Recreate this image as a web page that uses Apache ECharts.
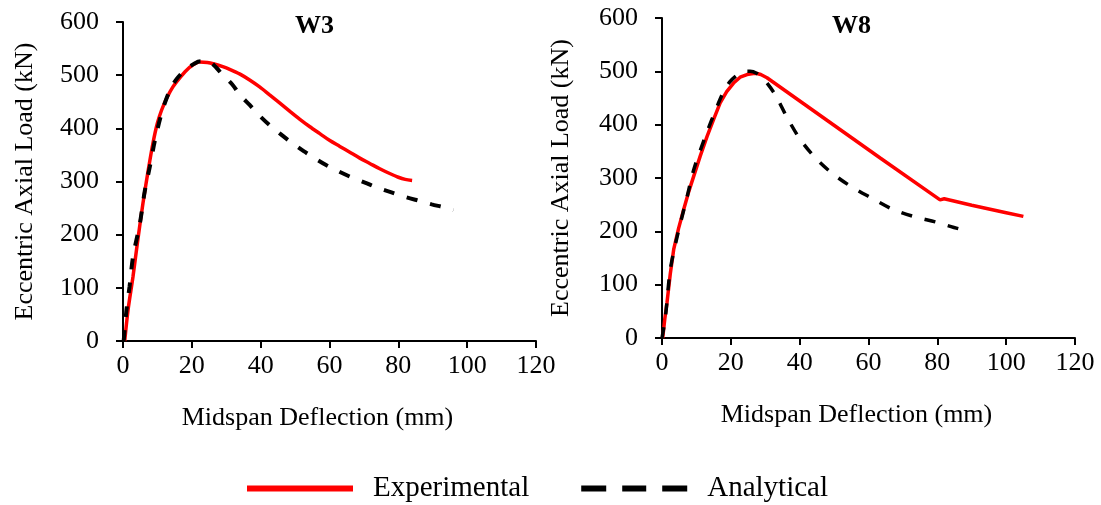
<!DOCTYPE html>
<html><head><meta charset="utf-8">
<script src="https://cdn.jsdelivr.net/npm/echarts@6/dist/echarts.min.js"></script>
<style>html,body{margin:0;padding:0;background:#fff}#c{width:1101px;height:505px}</style>
</head><body><div id="c"></div>
<script>
// ---- data (x = midspan deflection mm, y = eccentric axial load kN) ----
const panelTitles = ['W3', 'W8'];
const seriesNames = ['Experimental', 'Analytical'];
const xAxisName = 'Midspan Deflection (mm)';
const yAxisName = 'Eccentric Axial Load (kN)';

const w3Experimental = [
  [0.5,0],[1.5,60],[2.9,121],[4.3,190],[5.8,259],[7.3,320],[8.7,372],[10,410],[11.2,434],
  [12.8,458],[14.5,478],[16.5,495],[18.4,509],[20.3,519],[22.3,525],[24.5,524],[26.5,521],
  [29,516],[31,511],[34,502],[36.8,491],[39.7,478],[42.6,463],[45.5,448],[48.5,432],
  [51.4,417],[54.3,403],[57.2,390],[60.1,377],[63,366],[65.9,355],[68.8,344],[71.7,334],
  [74.6,324],[77.5,315],[80,308],[82,304],[84,302]
];
const w3Analytical = [
  [0.2,0],[1,58],[1.9,102],[2.9,158],[4.9,221],[6.3,281],[7.8,328],[9.2,375],[11.2,428],
  [13.6,472],[15.5,492],[17.9,509],[20.8,522],[22.5,526],[24.7,526],[27,515],[29,500],
  [31.7,483],[34,463],[36.8,444],[39.5,425],[42.6,406],[45.8,389],[49,373],[52.5,357],
  [55.9,343],[59,331],[62,321],[66,309],[70.3,298],[74,288],[78,279.5],[82,271],
  [85.8,264],[89.7,257],[93.7,250.6],[96,246]
];
const w8Experimental = [
  [0.2,0],[0.8,35],[1.45,66],[2.4,120],[3.4,166],[4.8,205],[6.3,241],[7.7,273],[9.2,303],
  [11.1,341],[13.1,378],[15,410],[16.9,441],[18.8,462],[20.8,478],[22.7,489],[24.7,494],
  [26.5,496],[27.6,496],[28.7,494],[30.5,488],[63.4,337.5],[80.8,259],[81.3,262],[82,261],
  [90,249],[100,235],[105,228]
];
const w8Analytical = [
  [0,0],[1,40],[2.4,128],[4.4,190],[7.3,265],[9.2,315],[12.6,378],[16,434],[17.9,462],
  [19.8,481],[22.7,497],[24.5,500],[25.6,500],[27.6,496],[29,488],[30.5,478],[33,455],
  [36.3,414],[40,374],[44.5,338],[49.4,309],[54.7,285],[61,262],[66.8,242],[73,228],
  [79.8,217],[86.1,205],[88,203]
];
const xTickMin = 0, xTickMax = 120, xTickStep = 20;
const yTickMin = 0, yTickMax = 600, yTickStep = 100;

// ---- chart ----
const FONT = "'Liberation Serif', 'Times New Roman', serif";
const RED = '#ff0000';
const chart = echarts.init(document.getElementById('c'), null, {renderer: 'canvas'});

function xAx(gi) {
  return {
    gridIndex: gi, type: 'value', min: xTickMin, max: xTickMax, interval: xTickStep,
    name: xAxisName, nameLocation: 'middle', nameGap: 64,
    nameTextStyle: {fontFamily: FONT, fontSize: 26, color: '#000', padding: [0, 24, 0, 0]},
    axisLine: {lineStyle: {color: '#000', width: 2}},
    axisTick: {show: true, inside: false, length: 7, lineStyle: {color: '#000', width: 2}},
    axisLabel: {fontFamily: FONT, fontSize: 26, color: '#000', margin: 12},
    splitLine: {show: false}
  };
}
function yAx(gi, gap) {
  return {
    gridIndex: gi, type: 'value', min: yTickMin, max: yTickMax, interval: yTickStep,
    name: yAxisName, nameLocation: 'middle', nameGap: gap, nameRotate: 90,
    nameTextStyle: {fontFamily: FONT, fontSize: 26, color: '#000'},
    axisLine: {show: true, lineStyle: {color: '#000', width: 2}},
    axisTick: {show: true, inside: false, length: 7, lineStyle: {color: '#000', width: 2}},
    axisLabel: {fontFamily: FONT, fontSize: 26, color: '#000', margin: 24},
    splitLine: {show: false}
  };
}
function expSeries(gi, data, smooth) {
  return {name: seriesNames[0], type: 'line', xAxisIndex: gi, yAxisIndex: gi, data: data,
    symbol: 'none', smooth: smooth, lineStyle: {color: RED, width: 3.5}, itemStyle: {color: RED}, z: 2};
}
function anaSeries(gi, data, w) {
  return {name: seriesNames[1], type: 'line', xAxisIndex: gi, yAxisIndex: gi, data: data,
    symbol: 'none', smooth: 0.3, lineStyle: {color: '#000', width: w, type: [11, 13]}, itemStyle: {color: '#000'}, z: 3};
}

chart.setOption({
  animation: false,
  backgroundColor: '#fff',
  title: [
    {text: panelTitles[0], left: 290, top: 8, textStyle: {fontFamily: FONT, fontSize: 26, fontWeight: 'bold', color: '#000'}},
    {text: panelTitles[1], left: 827, top: 8, textStyle: {fontFamily: FONT, fontSize: 26, fontWeight: 'bold', color: '#000'}}
  ],
  grid: [
    {left: 123, top: 22, width: 413, height: 319, containLabel: false},
    {left: 662, top: 18, width: 413, height: 320, containLabel: false}
  ],
  xAxis: [xAx(0), xAx(1)],
  yAxis: [yAx(0, 85), yAx(1, 88)],
  legend: {
    left: 247, top: 474, padding: 0, itemWidth: 106, itemHeight: 6, itemGap: 52,
    symbolKeepAspect: true,
    textStyle: {fontFamily: FONT, fontSize: 29, color: '#000', padding: [0, 0, 0, 15]},
    data: [
      {name: seriesNames[0], icon: 'path://M0,0H106V6H0Z'},
      {name: seriesNames[1], icon: 'path://M0,0H25V6H0Z M41,0H65V6H41Z M81,0H106V6H81Z'}
    ]
  },
  series: [
    expSeries(0, w3Experimental, 0.3),
    anaSeries(0, w3Analytical, 4),
    expSeries(1, w8Experimental, false),
    anaSeries(1, w8Analytical, 3.5)
  ]
});
</script></body></html>
